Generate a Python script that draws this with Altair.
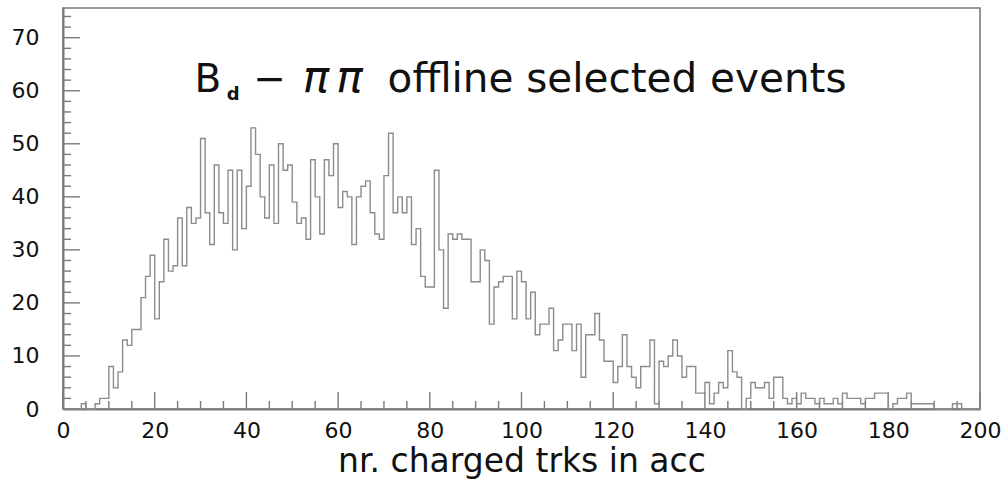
import altair as alt
import pandas as pd

# bin contents, bins of width 1 from 0 to 200
counts = [
    0, 0, 0, 0, 1, 0, 0, 1, 2, 2,            # 0-9
    8, 4, 7, 13, 12, 15, 15, 21, 25, 29,     # 10-19
    17, 24, 32, 26, 27, 36, 27, 38, 35, 36,  # 20-29
    51, 37, 31, 46, 37, 35, 45, 30, 45, 34,  # 30-39
    42, 53, 48, 40, 36, 46, 35, 50, 45, 46,  # 40-49
    39, 35, 36, 32, 47, 40, 33, 47, 44, 50,  # 50-59
    38, 41, 40, 31, 40, 42, 43, 37, 33, 32,  # 60-69
    44, 52, 37, 40, 37, 40, 31, 34, 25, 23,  # 70-79
    23, 45, 30, 19, 33, 32, 33, 32, 32, 24,  # 80-89
    24, 30, 28, 16, 23, 24, 25, 25, 17, 26,  # 90-99
    24, 17, 22, 14, 16, 16, 19, 11, 13, 16,  # 100-109
    16, 11, 16, 6, 14, 14, 18, 13, 9, 9,     # 110-119
    5, 8, 14, 8, 6, 4, 8, 8, 13, 1,          # 120-129
    9, 8, 10, 13, 10, 6, 8, 8, 3, 3,         # 130-139
    5, 1, 3, 5, 4, 11, 7, 6, 0, 2,           # 140-149
    5, 4, 4, 5, 2, 6, 6, 2, 1, 2,            # 150-159
    1, 3, 2, 2, 1, 2, 1, 1, 2, 1,            # 160-169
    3, 2, 2, 2, 1, 2, 2, 3, 3, 3,            # 170-179
    0, 1, 2, 2, 3, 1, 1, 1, 1, 1,            # 180-189
    0, 0, 0, 0, 1, 1, 0, 0, 0, 0,            # 190-199
]
bin_low = 0
bin_width = 1

x_major = list(range(0, 201, 20))
x_minor = [v for v in range(0, 201, 5) if v % 20]
y_major = list(range(0, 71, 10))
y_minor = [v for v in range(0, 76, 2) if v % 10]

x_title = "nr. charged trks in acc"
title_main = "B"
title_sub = "d"
title_minus = "\u2212"
title_pi = "\u03c0"
title_rest = "offline selected events"

W, H = 917, 401
X_DOM = [0, 200]
Y_DOM = [0, 75.6]
FONT = "DejaVu Sans"
LINE = "#7a7a7a"

edges = [bin_low + i * bin_width for i in range(len(counts) + 1)]
step_df = pd.DataFrame({"x": edges, "y": counts + [counts[-1]]})

xs = alt.Scale(domain=X_DOM, nice=False, zero=False)
ys = alt.Scale(domain=Y_DOM, nice=False)

hist = alt.Chart(step_df).mark_line(
    interpolate="step-after", color="#8c8c8c", strokeWidth=1.4
).encode(
    x=alt.X("x:Q", scale=xs, axis=alt.Axis(
        values=x_major, tickSize=0, labelPadding=11, labelFontSize=22,
        labelFont=FONT, labelColor="#111", domainColor=LINE, domainWidth=2,
        grid=False, title=x_title, titleFont=FONT, titleFontSize=33,
        titleFontWeight="normal", titleColor="#111", titlePadding=4,
        labelFlush=False)),
    y=alt.Y("y:Q", scale=ys, axis=alt.Axis(
        values=y_major, tickSize=0, labelPadding=24, labelFontSize=22,
        labelFont=FONT, labelColor="#111", domainColor=LINE, domainWidth=2,
        grid=False, title=None, labelFlush=False)),
)

def xticks(vals, length):
    return alt.Chart(pd.DataFrame({"v": vals})).mark_rule(
        color=LINE, strokeWidth=1.4
    ).encode(x=alt.X("v:Q", scale=xs), y=alt.value(H), y2=alt.value(H - length))

def yticks(vals, length):
    return alt.Chart(pd.DataFrame({"v": vals})).mark_rule(
        color=LINE, strokeWidth=1.4
    ).encode(y=alt.Y("v:Q", scale=ys), x=alt.value(0), x2=alt.value(length))

def label(text, x, y, size, **kw):
    return alt.Chart().mark_text(
        text=text, align="left", baseline="alphabetic", font=FONT,
        fontSize=size, color="#111", **kw
    ).encode(x=alt.datum(x, scale=xs), y=alt.datum(y, scale=ys))

title_layers = [
    label(title_main, 28.7, 59.8, 39),
    label(title_sub, 35.7, 58.3, 18, fontWeight="bold"),
    label(title_minus, 41.5, 59.8, 39),
    label(title_pi, 52.3, 59.8, 44, fontStyle="italic"),
    label(title_pi, 59.6, 59.8, 44, fontStyle="italic"),
    label(title_rest, 70.8, 59.8, 40.5),
]

chart = alt.layer(
    xticks(x_major, 17), xticks(x_minor, 8),
    yticks(y_major, 17), yticks(y_minor, 8),
    hist, *title_layers
).properties(
    width=W, height=H,
    padding={"left": 63, "top": 8, "right": 26, "bottom": 71},
    autosize=alt.AutoSizeParams(type="none"),
    background="white",
).configure_view(stroke=LINE, strokeWidth=1.6)

chart.save("out.html", embed_options={"renderer": "svg", "actions": False})
